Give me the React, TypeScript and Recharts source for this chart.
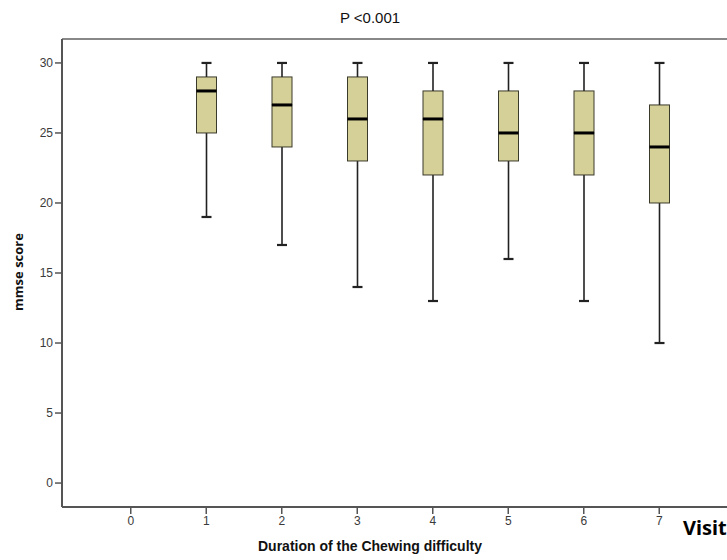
import React from 'react';
import { ComposedChart, Bar, XAxis, YAxis, ReferenceLine } from 'recharts';

const categories = ['0', '1', '2', '3', '4', '5', '6', '7'];
const minVals: (number | null)[] = [null, 19, 17, 14, 13, 16, 13, 10];
const q1Vals: (number | null)[] = [null, 25, 24, 23, 22, 23, 22, 20];
const medianVals: (number | null)[] = [null, 28, 27, 26, 26, 25, 25, 24];
const q3Vals: (number | null)[] = [null, 29, 29, 29, 28, 28, 28, 27];
const maxVals: (number | null)[] = [null, 30, 30, 30, 30, 30, 30, 30];
const yTicks = [0, 5, 10, 15, 20, 25, 30];
const Y_MIN = -1.71;
const Y_MAX = 31.71;

const diff = (a: number | null, b: number | null) => (a == null || b == null ? null : a - b);

const data = categories.map((c, i) => ({
  cat: c,
  base: minVals[i],
  lowWhisker: diff(q1Vals[i], minVals[i]),
  lowBox: diff(medianVals[i], q1Vals[i]),
  highBox: diff(q3Vals[i], medianVals[i]),
  highWhisker: diff(maxVals[i], q3Vals[i]),
}));

const FILL = '#d5cf98';
const EDGE = '#3a3a2a';
const LINE = '#222';

const valid = (p: any, key: string) =>
  p && p.payload && p.payload[key] != null && p.height != null && !isNaN(p.height);

const LowWhisker = (p: any) => {
  if (!valid(p, 'lowWhisker')) return null;
  const { x, y, width, height } = p;
  const cx = x + width / 2;
  return (
    <g>
      <line x1={cx} x2={cx} y1={y} y2={y + height} stroke={LINE} strokeWidth={1.6} />
      <line x1={cx - 5} x2={cx + 5} y1={y + height} y2={y + height} stroke={LINE} strokeWidth={2.2} />
    </g>
  );
};

const HighWhisker = (p: any) => {
  if (!valid(p, 'highWhisker')) return null;
  const { x, y, width, height } = p;
  const cx = x + width / 2;
  return (
    <g>
      <line x1={cx} x2={cx} y1={y} y2={y + height} stroke={LINE} strokeWidth={1.6} />
      <line x1={cx - 5} x2={cx + 5} y1={y} y2={y} stroke={LINE} strokeWidth={2.2} />
    </g>
  );
};

const LowBox = (p: any) => {
  if (!valid(p, 'lowBox')) return null;
  const { x, y, width, height } = p;
  return <rect x={x} y={y} width={width} height={height} fill={FILL} stroke={EDGE} strokeWidth={1} />;
};

const HighBox = (p: any) => {
  if (!valid(p, 'highBox')) return null;
  const { x, y, width, height } = p;
  return (
    <g>
      <rect x={x} y={y} width={width} height={height} fill={FILL} stroke={EDGE} strokeWidth={1} />
      <line x1={x} x2={x + width} y1={y + height} y2={y + height} stroke="#000" strokeWidth={3} />
    </g>
  );
};

const Empty = () => null;

const axisColor = '#555';
const tickStyle = { fill: '#3a3a3a', fontSize: 12, fontFamily: 'Liberation Sans, Arial, sans-serif' };

export default function App() {
  return (
    <div style={{ position: 'absolute', left: 0, top: 0, width: 727, height: 560, overflow: 'hidden', background: '#fff' }}>
      <ComposedChart
        width={760}
        height={560}
        data={data}
        margin={{ top: 39, right: 32, bottom: 0, left: 0 }}
        barCategoryGap={0}
      >
        <XAxis
          dataKey="cat"
          padding={{ left: 31, right: 31 }}
          axisLine={{ stroke: axisColor, strokeWidth: 2 }}
          tickLine={{ stroke: axisColor, strokeWidth: 1.5 }}
          tickSize={7}
          tick={tickStyle}
          interval={0}
          height={53}
        />
        <YAxis
          type="number"
          domain={[Y_MIN, Y_MAX]}
          ticks={yTicks}
          width={62}
          axisLine={{ stroke: axisColor, strokeWidth: 2 }}
          tickLine={{ stroke: axisColor, strokeWidth: 1.5 }}
          tickSize={7}
          tick={tickStyle}
          allowDataOverflow
        />
        <ReferenceLine y={Y_MAX} stroke="#888" strokeWidth={2} ifOverflow="visible" />
        <Bar dataKey="base" stackId="b" barSize={20} shape={Empty} isAnimationActive={false} />
        <Bar dataKey="lowWhisker" stackId="b" barSize={20} shape={LowWhisker} isAnimationActive={false} />
        <Bar dataKey="lowBox" stackId="b" barSize={20} shape={LowBox} isAnimationActive={false} />
        <Bar dataKey="highBox" stackId="b" barSize={20} shape={HighBox} isAnimationActive={false} />
        <Bar dataKey="highWhisker" stackId="b" barSize={20} shape={HighWhisker} isAnimationActive={false} />
      </ComposedChart>
      <div style={{ position: 'absolute', left: 0, width: 740, top: 9, textAlign: 'center', fontFamily: 'Liberation Sans, Arial, sans-serif', fontSize: 15, color: '#111' }}>
        P &lt;0.001
      </div>
      <div style={{ position: 'absolute', left: 0, width: 740, top: 538, textAlign: 'center', fontFamily: 'Liberation Sans, Arial, sans-serif', fontSize: 14, fontWeight: 'bold', color: '#111' }}>
        Duration of the Chewing difficulty
      </div>
      <div style={{ position: 'absolute', left: 683, top: 514, fontFamily: 'Noto Sans, Open Sans, sans-serif', fontSize: 20, fontWeight: 'bold', color: '#000', whiteSpace: 'nowrap' }}>
        Visit
      </div>
      <div style={{ position: 'absolute', left: 18, top: 272, transform: 'translate(-50%, -50%) rotate(-90deg)', fontFamily: 'Open Sans, Noto Sans, sans-serif', fontSize: 13, fontWeight: 'bold', color: '#111', whiteSpace: 'nowrap' }}>
        mmse score
      </div>
    </div>
  );
}
